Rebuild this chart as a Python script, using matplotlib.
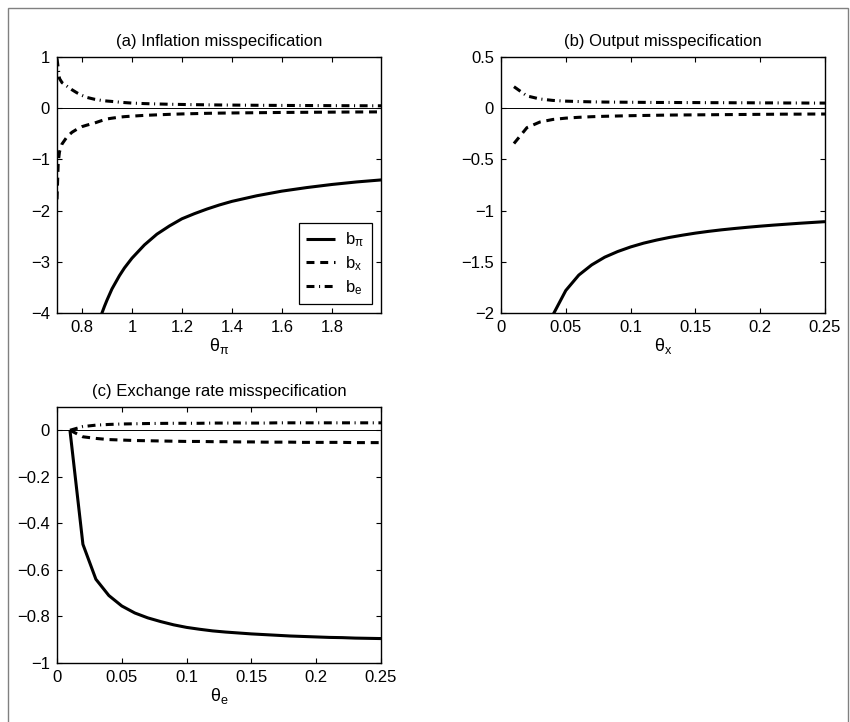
import matplotlib
matplotlib.use("Agg")
import matplotlib.pyplot as plt
from matplotlib.patches import Rectangle

plt.rcParams.update({
    'font.family': ['Liberation Sans', 'DejaVu Sans'],
    'font.size': 12,
    'mathtext.fontset': 'custom',
    'mathtext.rm': 'Liberation Sans',
    'mathtext.it': 'Liberation Sans',
    'mathtext.bf': 'Liberation Sans:bold',
    'axes.unicode_minus': True,
})

# ---------------- data ----------------
# (a) Inflation misspecification
theta_pi_grid = [0.70, 0.705, 0.71, 0.72, 0.74, 0.76, 0.78, 0.80, 0.82, 0.85,
                 0.88, 0.89, 0.90, 0.92, 0.95, 0.97, 1.00, 1.05, 1.10, 1.15,
                 1.20, 1.25, 1.30, 1.35, 1.40, 1.50, 1.60, 1.70, 1.80, 1.90, 2.00]
a_b_pi = [-13.0, -12.0, -11.0, -10.0, -8.2, -7.0, -6.2, -5.5, -5.0, -4.5,
          -4.00, -3.87, -3.75, -3.53, -3.27, -3.12, -2.93, -2.67, -2.46, -2.30,
          -2.16, -2.06, -1.97, -1.89, -1.82, -1.71, -1.62, -1.55, -1.49, -1.44, -1.40]
a_b_x = [-1.78, -1.05, -0.85, -0.70, -0.56, -0.47, -0.41, -0.36, -0.33, -0.29,
         -0.24, -0.225, -0.21, -0.195, -0.175, -0.165, -0.155, -0.14, -0.13, -0.12,
         -0.112, -0.106, -0.10, -0.096, -0.093, -0.088, -0.083, -0.080, -0.077, -0.074, -0.072]
a_b_e = [0.97, 0.78, 0.58, 0.50, 0.43, 0.36, 0.30, 0.25, 0.21, 0.175,
         0.15, 0.145, 0.14, 0.132, 0.118, 0.11, 0.10, 0.09, 0.083, 0.077,
         0.073, 0.069, 0.066, 0.063, 0.061, 0.057, 0.054, 0.052, 0.050, 0.048, 0.047]

# (b) Output misspecification
theta_x_grid = [0.01, 0.02, 0.03, 0.04, 0.05, 0.06, 0.07, 0.08, 0.09, 0.10,
                0.11, 0.12, 0.13, 0.14, 0.15, 0.16, 0.17, 0.18, 0.19, 0.20,
                0.21, 0.22, 0.23, 0.24, 0.25]
b_b_pi = [-6.0, -3.4, -2.45, -2.02, -1.78, -1.63, -1.53, -1.455, -1.40, -1.355,
          -1.318, -1.288, -1.262, -1.24, -1.22, -1.203, -1.188, -1.175, -1.163, -1.152,
          -1.142, -1.133, -1.124, -1.116, -1.108]
b_b_x = [-0.345, -0.19, -0.135, -0.11, -0.097, -0.089, -0.083, -0.079, -0.076, -0.073,
         -0.071, -0.069, -0.067, -0.066, -0.065, -0.064, -0.063, -0.062, -0.061, -0.060,
         -0.059, -0.058, -0.058, -0.057, -0.057]
b_b_e = [0.21, 0.12, 0.09, 0.076, 0.069, 0.065, 0.062, 0.060, 0.059, 0.058,
         0.057, 0.056, 0.056, 0.055, 0.055, 0.054, 0.054, 0.053, 0.053, 0.052,
         0.052, 0.051, 0.051, 0.050, 0.050]

# (c) Exchange rate misspecification
theta_e_grid = [0.01, 0.02, 0.03, 0.04, 0.05, 0.06, 0.07, 0.08, 0.09, 0.10,
                0.11, 0.12, 0.13, 0.14, 0.15, 0.16, 0.17, 0.18, 0.19, 0.20,
                0.21, 0.22, 0.23, 0.24, 0.25]
c_b_pi = [0.0, -0.49, -0.64, -0.71, -0.755, -0.785, -0.806, -0.822, -0.836, -0.847,
          -0.855, -0.862, -0.867, -0.871, -0.875, -0.878, -0.881, -0.884, -0.886, -0.888,
          -0.890, -0.891, -0.893, -0.894, -0.895]
c_b_x = [0.0, -0.028, -0.035, -0.040, -0.042, -0.044, -0.045, -0.046, -0.047, -0.048,
         -0.048, -0.049, -0.049, -0.050, -0.050, -0.051, -0.051, -0.051, -0.052, -0.052,
         -0.052, -0.052, -0.053, -0.053, -0.053]
c_b_e = [0.0, 0.016, 0.022, 0.025, 0.027, 0.028, 0.029, 0.0295, 0.030, 0.030,
         0.030, 0.031, 0.031, 0.031, 0.031, 0.031, 0.032, 0.032, 0.032, 0.032,
         0.032, 0.032, 0.032, 0.032, 0.032]

titles = ['(a) Inflation misspecification', '(b) Output misspecification',
          '(c) Exchange rate misspecification']
xlabels = [r'$\theta_{\pi}$', r'$\theta_{x}$', r'$\theta_{e}$']
legend_labels = [r'b$_{\pi}$', r'b$_{x}$', r'b$_{e}$']

xticks_a = [0.8, 1.0, 1.2, 1.4, 1.6, 1.8]
xticklabels_a = ['0.8', '1', '1.2', '1.4', '1.6', '1.8']
yticks_a = [-4, -3, -2, -1, 0, 1]
xticks_bc = [0, 0.05, 0.1, 0.15, 0.2, 0.25]
xticklabels_bc = ['0', '0.05', '0.1', '0.15', '0.2', '0.25']
yticks_b = [-2, -1.5, -1, -0.5, 0, 0.5]
yticklabels_b = ['\u22122', '\u22121.5', '\u22121', '\u22120.5', '0', '0.5']
yticks_c = [-1, -0.8, -0.6, -0.4, -0.2, 0]
yticklabels_c = ['\u22121', '\u22120.8', '\u22120.6', '\u22120.4', '\u22120.2', '0']

# ---------------- figure ----------------
W, H = 850, 722
fig = plt.figure(figsize=(W / 100, H / 100), dpi=100)

def ax_at(l, r, t, b):
    return fig.add_axes([l / W, 1 - b / H, (r - l) / W, (b - t) / H])

ax_a = ax_at(57, 381, 57, 313)
ax_b = ax_at(501, 825, 57, 313)
ax_c = ax_at(57, 381, 407, 663)

LW = 2.2
dash = (2.6, 1.9)
dashdot = (2.6, 1.5, 0.35, 1.5)

def draw(ax, x, bp, bx, be):
    ax.axhline(0, color='k', lw=0.7, zorder=1)
    l1, = ax.plot(x, bp, color='k', lw=LW, solid_capstyle='butt')
    l2, = ax.plot(x, bx, color='k', lw=LW, linestyle=(0, dash), dash_capstyle='butt')
    l3, = ax.plot(x, be, color='k', lw=LW, linestyle=(0, dashdot), dash_capstyle='butt')
    return [l1, l2, l3]

def style(ax, title, xlabel):
    ax.set_title(title, fontsize=12, pad=8)
    ax.set_xlabel(xlabel, fontsize=13, labelpad=1)
    ax.tick_params(direction='in', length=3.5, width=0.8, top=True, right=True,
                   labelsize=12, pad=5)
    for s in ax.spines.values():
        s.set_linewidth(1.0)

lines = draw(ax_a, theta_pi_grid, a_b_pi, a_b_x, a_b_e)
ax_a.set_xlim(0.7, 1.997)
ax_a.set_ylim(-4, 1)
ax_a.set_xticks(xticks_a)
ax_a.set_xticklabels(xticklabels_a)
ax_a.set_yticks(yticks_a)
style(ax_a, titles[0], xlabels[0])
leg = ax_a.legend(lines, legend_labels, loc='lower right',
                  bbox_to_anchor=(0.972, 0.035), borderaxespad=0,
                  fancybox=False, framealpha=1, edgecolor='k',
                  handlelength=1.75, handletextpad=0.6, labelspacing=0.3,
                  borderpad=0.45, fontsize=12)
leg.get_frame().set_linewidth(0.9)

draw(ax_b, theta_x_grid, b_b_pi, b_b_x, b_b_e)
ax_b.set_xlim(0, 0.25)
ax_b.set_ylim(-2, 0.5)
ax_b.set_xticks(xticks_bc)
ax_b.set_xticklabels(xticklabels_bc)
ax_b.set_yticks(yticks_b)
ax_b.set_yticklabels(yticklabels_b)
style(ax_b, titles[1], xlabels[1])

draw(ax_c, theta_e_grid, c_b_pi, c_b_x, c_b_e)
ax_c.set_xlim(0, 0.25)
ax_c.set_ylim(-1, 0.1)
ax_c.set_xticks(xticks_bc)
ax_c.set_xticklabels(xticklabels_bc)
ax_c.set_yticks(yticks_c)
ax_c.set_yticklabels(yticklabels_c)
style(ax_c, titles[2], xlabels[2])

fig.patches.append(Rectangle((8 / W, -0.02), (848 - 8) / W, (H - 8) / H + 0.02,
                             transform=fig.transFigure, fill=False,
                             edgecolor='#808080', lw=1.0))

fig.savefig('out.png', dpi=100)
